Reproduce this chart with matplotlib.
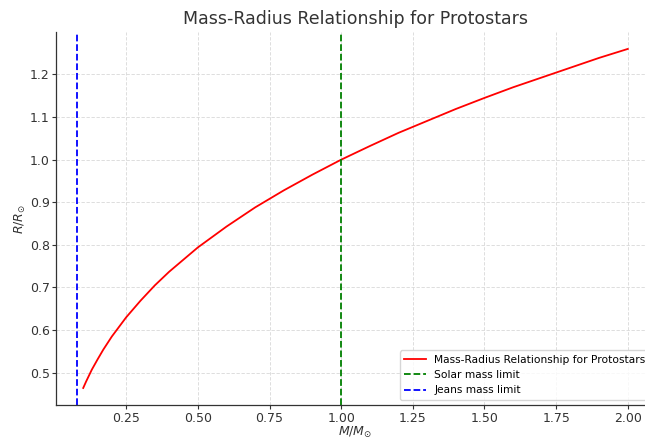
import matplotlib
matplotlib.use('Agg')
import matplotlib.pyplot as plt

# values
mass = [0.10, 0.11, 0.12, 0.13, 0.15, 0.17, 0.20, 0.25, 0.30, 0.35, 0.40, 0.50, 0.60, 0.70,
        0.80, 0.90, 1.00, 1.10, 1.20, 1.30, 1.40, 1.50, 1.60, 1.70, 1.80, 1.90, 2.00]
radius = [0.464, 0.479, 0.493, 0.507, 0.531, 0.554, 0.585, 0.630, 0.669, 0.705, 0.737, 0.794,
          0.843, 0.888, 0.928, 0.965, 1.000, 1.032, 1.063, 1.091, 1.119, 1.145, 1.170, 1.193,
          1.216, 1.239, 1.260]
solar_limit = 1.0
jeans_limit = 0.08

fig = plt.figure(figsize=(6.45, 4.4), dpi=100)
ax = fig.add_axes([0.0868, 0.0795, 0.9287, 0.848])

ax.plot(mass, radius, color='red', lw=1.3, label='Mass-Radius Relationship for Protostars')
ax.axvline(solar_limit, color='green', ls='--', lw=1.3, label='Solar mass limit')
ax.axvline(jeans_limit, color='blue', ls='--', lw=1.3, label='Jeans mass limit')

ax.set_xlim(0.005, 2.095)
ax.set_ylim(0.424, 1.300)
ax.set_xticks([0.25, 0.5, 0.75, 1.0, 1.25, 1.5, 1.75, 2.0])
ax.set_yticks([0.5, 0.6, 0.7, 0.8, 0.9, 1.0, 1.1, 1.2])

ax.grid(True, ls=(0, (4, 2)), color='#d8d8d8', lw=0.6)
for side in ['top', 'right']:
    ax.spines[side].set_visible(False)
for side in ['left', 'bottom']:
    ax.spines[side].set_color('#333333')
    ax.spines[side].set_linewidth(0.9)
ax.tick_params(colors='#333333', labelsize=9, length=3)
ax.tick_params(axis='x', pad=2)
ax.tick_params(axis='y', pad=1.5)

ax.set_title('Mass-Radius Relationship for Protostars', fontsize=12.5, color='#333333', pad=6)
ax.set_xlabel(r'$M/M_{\odot}$', color='#333333', fontsize=9, labelpad=0)
ax.set_ylabel(r'$R/R_{\odot}$', color='#333333', fontsize=9, labelpad=1.5)
ax.legend(loc='lower right', fontsize=7.7)

fig.savefig('out.png', dpi=100)
